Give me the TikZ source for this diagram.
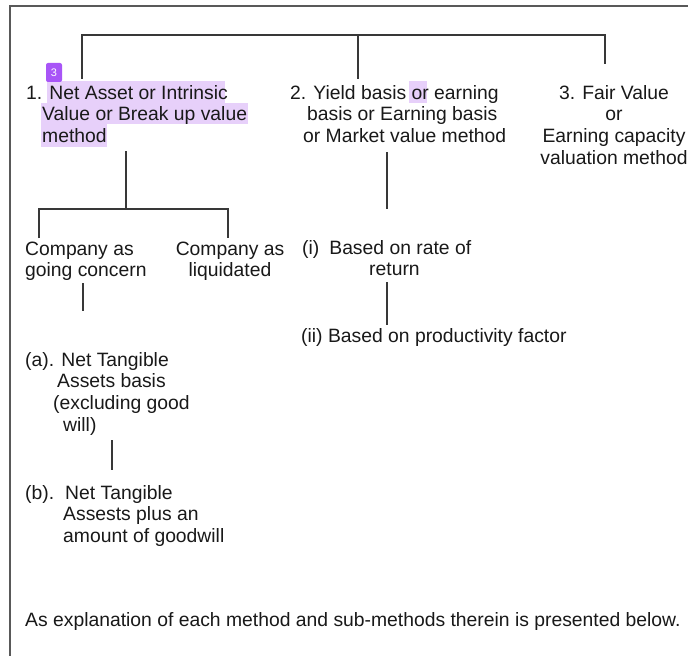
\documentclass[tikz,border=0pt]{standalone}
\usepackage{fontspec}
\setmainfont{Liberation Sans}
\definecolor{hlcol}{RGB}{231,208,250}
\definecolor{badgecol}{RGB}{168,85,247}
\definecolor{inkcol}{RGB}{25,25,25}
\begin{document}
\begin{tikzpicture}[x=1bp,y=-1bp,
  txt/.style={anchor=base west, inner sep=0pt, align=left, font=\fontsize{19.4}{21.7}\selectfont, text=inkcol},
  txtc/.style={anchor=base, inner sep=0pt, align=center, font=\fontsize{19.4}{21.7}\selectfont, text=inkcol},
  conn/.style={draw=black!78, line width=1.2bp},
  hl/.style={fill=hlcol, draw=none},
  frame/.style={draw=black!65, line width=2bp}]
\useasboundingbox (0,0) rectangle (688,656);
\fill[white] (0,0) rectangle (688,656);
\draw[frame] (10,656) -- (10,6) -- (688,6);

% highlights
\fill[hl] (47,81) rectangle (225,103);
\fill[hl] (41,103) rectangle (248,124);
\fill[hl] (41,124) rectangle (107,147);
\fill[hl] (409,81) rectangle (427,103);

% text nodes (base anchor = baseline of the last line)
\node[txt] (n1) at (26,142.4) {1. Net Asset or Intrinsic\\\hspace*{16bp}Value or Break up value\\\hspace*{16bp}method};
\node[fill=badgecol, rounded corners=2bp, minimum width=16bp, minimum height=19bp, inner sep=0pt, text=white, font=\fontsize{11}{11}\selectfont] (badge) at (54,72.5) {3};
\node[txt] (n2) at (290,142.4) {2. Yield basis or earning\\\hspace*{17bp}basis or Earning basis\\\hspace*{13bp}or Market value method};
\node[txtc] (n3) at (614,164.1) {3. Fair Value\\or\\Earning capacity\\valuation method};
\node[txt] (gc) at (25,276.7) {Company as\\going concern};
\node[txtc] (liq) at (230,276.7) {Company as\\liquidated};
\node[txt] (r1) at (302,275.7) {(i)\hspace{10bp}Based on rate of\\\hspace*{67bp}return};
\node[txt] (r2) at (301,342) {(ii) Based on productivity factor};
\node[txt] (a) at (25,431.1) {(a). Net Tangible\\\hspace*{32bp}Assets basis\\\hspace*{28bp}(excluding good\\\hspace*{38bp}will)};
\node[txt] (b) at (25,542.4) {(b).\hspace{11bp}Net Tangible\\\hspace*{38bp}Assests plus an\\\hspace*{38bp}amount of goodwill};
\node[txt] (note) at (25,626) {As explanation of each method and sub-methods therein is presented below.};

% connector points
\coordinate (top1) at (82,79);
\coordinate (top2) at (358,79);
\coordinate (top3) at (605,64);
\coordinate (j1) at (82,35);
\coordinate (j2) at (358,35);
\coordinate (j3) at (605,35);
\coordinate (n1o) at (126,151);
\coordinate (s1) at (126,209);
\coordinate (gci) at (39,238);
\coordinate (liqi) at (228,238);
\coordinate (gco) at (83,283);
\coordinate (ai) at (83,311);
\coordinate (n2o) at (387,152);
\coordinate (r1i) at (387,209);
\coordinate (r1o) at (387,282);
\coordinate (r2i) at (387,325);
\coordinate (ao) at (112,440);
\coordinate (bi) at (112,470);

\draw[conn] (top1) -- (j1) -- (j3) -- (top3);
\draw[conn] (j2) -- (top2);
\draw[conn] (n1o) -- (s1);
\draw[conn] (gci) |- (s1) -| (liqi);
\draw[conn] (gco) -- (ai);
\draw[conn] (n2o) -- (r1i);
\draw[conn] (r1o) -- (r2i);
\draw[conn] (ao) -- (bi);
\end{tikzpicture}
\end{document}
